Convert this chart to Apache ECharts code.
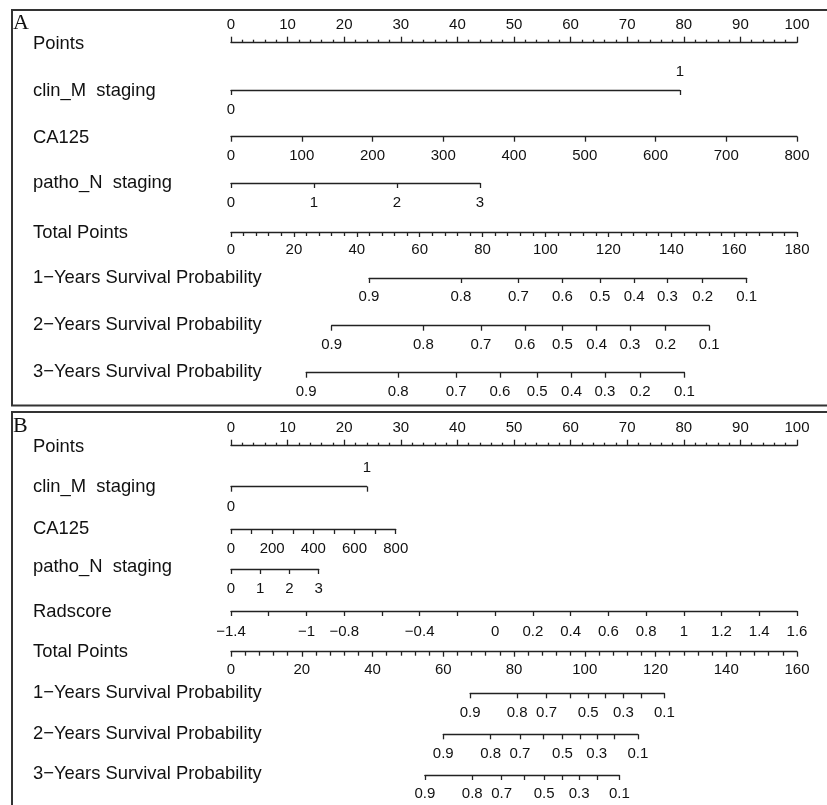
<!DOCTYPE html>
<html><head><meta charset="utf-8">
<script src="https://cdn.jsdelivr.net/npm/echarts@6/dist/echarts.min.js"></script>
<style>html,body{margin:0;padding:0;background:#fff}#c{width:827px;height:805px}</style>
</head><body><div id="c"></div>
<script>
// ---------------- data ----------------
const rowTitlesA = ['Points','clin_M  staging','CA125','patho_N  staging','Total Points',
  '1\u2212Years Survival Probability','2\u2212Years Survival Probability','3\u2212Years Survival Probability'];
const rowTitlesB = ['Points','clin_M  staging','CA125','patho_N  staging','Radscore','Total Points',
  '1\u2212Years Survival Probability','2\u2212Years Survival Probability','3\u2212Years Survival Probability'];

const pointsRange = [0, 100];
const survLabels = ['0.9','0.8','0.7','0.6','0.5','0.4','0.3','0.2','0.1'];

// Panel A: variable ranges and the points they reach
const clinM_A_values = [0, 1];      const clinM_A_points = [0, 79.3];
const ca125_A_values = [0, 800];    const ca125_A_points = [0, 100];
const pathoN_A_values = [0, 3];     const pathoN_A_points = [0, 44.0];
const totalPoints_A = [0, 180];
const surv1_A_tp = [43.9, 73.1, 91.4, 105.4, 117.3, 128.2, 138.8, 150.0, 164.0];
const surv2_A_tp = [32.0, 61.2, 79.5, 93.5, 105.4, 116.3, 126.9, 138.2, 152.1];
const surv3_A_tp = [23.9, 53.2, 71.6, 85.5, 97.4, 108.3, 118.9, 130.1, 144.2];
const survShown_A = ['0.9','0.8','0.7','0.6','0.5','0.4','0.3','0.2','0.1'];

// Panel B
const clinM_B_values = [0, 1];      const clinM_B_points = [0, 24.0];
const ca125_B_values = [0, 800];    const ca125_B_points = [0, 29.1];
const ca125_B_labels = [0, 200, 400, 600, 800];
const pathoN_B_values = [0, 3];     const pathoN_B_points = [0, 15.5];
const radscore_values = [-1.4, 1.6]; const radscore_points = [0, 100];
const radscore_ticks = [-1.4,-1.2,-1.0,-0.8,-0.6,-0.4,-0.2,0,0.2,0.4,0.6,0.8,1.0,1.2,1.4,1.6];
const radscore_labels = [-1.4,-1.0,-0.8,-0.4,0,0.2,0.4,0.6,0.8,1.0,1.2,1.4,1.6];
const totalPoints_B = [0, 160];
const surv1_B_tp = [67.6, 80.9, 89.2, 95.8, 101.0, 105.9, 110.9, 116.1, 122.5];
const surv2_B_tp = [60.0, 73.4, 81.7, 88.3, 93.7, 98.7, 103.4, 108.4, 115.0];
const surv3_B_tp = [54.8, 68.2, 76.5, 82.9, 88.5, 93.5, 98.4, 103.4, 109.8];
const survShown_B = ['0.9','0.8','0.7','0.5','0.3','0.1'];

// ---------------- layout ----------------
const X0 = 231, X1 = 797, W = X1 - X0;
const FONT = "'Liberation Sans', Arial, sans-serif";
const LINE = '#222', TXT = '#111';
const LW = 1.3, TICKFS = 15;

const grids = [], xAxes = [], yAxes = [], graphics = [];

function gridAt(p0, p1, scaleMax, y) {
  return { left: X0 + p0 / scaleMax * W, width: (p1 - p0) / scaleMax * W, top: y, height: 0 };
}
function baseAxis(min, max, pos, margin) {
  return {
    type: 'value', position: pos, min: min, max: max,
    splitLine: { show: false },
    axisLine: { show: true, onZero: false, lineStyle: { color: LINE, width: LW } },
    axisTick: { show: true, length: 5, lineStyle: { color: LINE, width: LW } },
    axisLabel: { show: true, margin: margin, color: TXT, fontSize: TICKFS, fontFamily: FONT,
      showMinLabel: true, showMaxLabel: true, hideOverlap: false }
  };
}
function addRow(grid, axes) {
  const gi = grids.length;
  grids.push(grid);
  yAxes.push({ gridIndex: gi, type: 'value', show: false, min: 0, max: 1 });
  axes.forEach(a => { a.gridIndex = gi; xAxes.push(a); });
}
function minus(v) { return String(v).replace('-', '\u2212'); }

function pointsRow(y) {
  const a = baseAxis(pointsRange[0], pointsRange[1], 'top', 10);
  a.interval = 10;
  a.axisTick.length = 6;
  a.minorTick = { show: true, splitNumber: 5, length: 3, lineStyle: { color: LINE, width: LW } };
  addRow(gridAt(0, 100, 100, y), [a]);
}
function binaryRow(values, pts, y, mBottom, mTop) {
  const g = gridAt(pts[0], pts[1], 100, y);
  const a = baseAxis(values[0], values[1], 'bottom', mBottom);
  a.axisTick.customValues = values.slice();
  a.axisLabel.customValues = [values[0]];
  const b = baseAxis(values[0], values[1], 'top', mTop);
  b.axisLine.show = false; b.axisTick.show = false;
  b.axisLabel.customValues = [values[1]];
  addRow(g, [a, b]);
}
function linearRow(values, pts, y, interval, margin, labelVals) {
  const a = baseAxis(values[0], values[1], 'bottom', margin);
  a.interval = interval;
  if (labelVals) a.axisLabel.customValues = labelVals;
  addRow(gridAt(pts[0], pts[1], 100, y), [a]);
}
function totalRow(range, y, margin) {
  const a = baseAxis(range[0], range[1], 'bottom', margin);
  a.interval = 20;
  a.minorTick = { show: true, splitNumber: 5, length: 4, lineStyle: { color: LINE, width: LW } };
  addRow(gridAt(range[0], range[1], range[1], y), [a]);
}
function survRow(tp, shown, totalMax, y, margin) {
  const a = baseAxis(tp[0], tp[tp.length - 1], 'bottom', margin);
  a.axisTick.customValues = tp.slice();
  a.axisLabel.customValues = tp.filter((v, i) => shown.indexOf(survLabels[i]) >= 0);
  a.axisLabel.formatter = function (v) {
    let best = 0, d = Infinity;
    tp.forEach((t, i) => { if (Math.abs(t - v) < d) { d = Math.abs(t - v); best = i; } });
    return survLabels[best];
  };
  addRow(gridAt(tp[0], tp[tp.length - 1], totalMax, y), [a]);
}
function title(text, y) {
  graphics.push({ type: 'text', left: 33, top: y - 8.5, z: 10,
    style: { text: text, font: "18.4px " + FONT, fill: TXT } });
}

// ---- Panel A ----
pointsRow(42.7);
binaryRow(clinM_A_values, clinM_A_points, 90, 12.5, 11);
linearRow(ca125_A_values, ca125_A_points, 136.7, 100, 12);
linearRow(pathoN_A_values, pathoN_A_points, 183, 1, 12.5);
totalRow(totalPoints_A, 232, 10.8);
survRow(surv1_A_tp, survShown_A, totalPoints_A[1], 278, 11.8);
survRow(surv2_A_tp, survShown_A, totalPoints_A[1], 325.7, 11.3);
survRow(surv3_A_tp, survShown_A, totalPoints_A[1], 372.7, 11.3);
const titleYA = [43, 90.7, 137, 182, 232, 277, 324, 371.7];
rowTitlesA.forEach((t, i) => title(t, titleYA[i]));

// ---- Panel B ----
pointsRow(445.7);
binaryRow(clinM_B_values, clinM_B_points, 486.7, 12.5, 11);
linearRow(ca125_B_values, ca125_B_points, 529, 100, 12, ca125_B_labels);
linearRow(pathoN_B_values, pathoN_B_points, 569, 1, 12);
(function () {
  const a = baseAxis(radscore_values[0], radscore_values[1], 'bottom', 13);
  a.axisTick.customValues = radscore_ticks;
  a.axisLabel.customValues = radscore_labels;
  a.axisLabel.formatter = v => minus(Math.round(v * 10) / 10);
  addRow(gridAt(radscore_points[0], radscore_points[1], 100, 611), [a]);
})();
totalRow(totalPoints_B, 651.7, 11);
survRow(surv1_B_tp, survShown_B, totalPoints_B[1], 693.3, 12.5);
survRow(surv2_B_tp, survShown_B, totalPoints_B[1], 734.3, 11.8);
survRow(surv3_B_tp, survShown_B, totalPoints_B[1], 775, 11);
const titleYB = [446.7, 486.7, 528.3, 566.7, 611.7, 651.7, 692.7, 733.3, 773.3];
rowTitlesB.forEach((t, i) => title(t, titleYB[i]));

// panel frames and letters
graphics.push({ type: 'rect', shape: { x: 12, y: 10, width: 830, height: 395.5 }, z: 1,
  style: { fill: 'none', stroke: '#333', lineWidth: 2 } });
graphics.push({ type: 'rect', shape: { x: 12, y: 412, width: 830, height: 400 }, z: 1,
  style: { fill: 'none', stroke: '#333', lineWidth: 2 } });
graphics.push({ type: 'text', left: 13, top: 12, z: 10,
  style: { text: 'A', font: "22px 'Liberation Serif', 'Times New Roman', serif", fill: '#111' } });
graphics.push({ type: 'text', left: 13, top: 415, z: 10,
  style: { text: 'B', font: "22px 'Liberation Serif', 'Times New Roman', serif", fill: '#111' } });

const chart = echarts.init(document.getElementById('c'), null, { renderer: 'canvas' });
chart.setOption({
  animation: false,
  backgroundColor: '#fff',
  grid: grids, xAxis: xAxes, yAxis: yAxes,
  series: [],
  graphic: graphics
});
</script></body></html>
